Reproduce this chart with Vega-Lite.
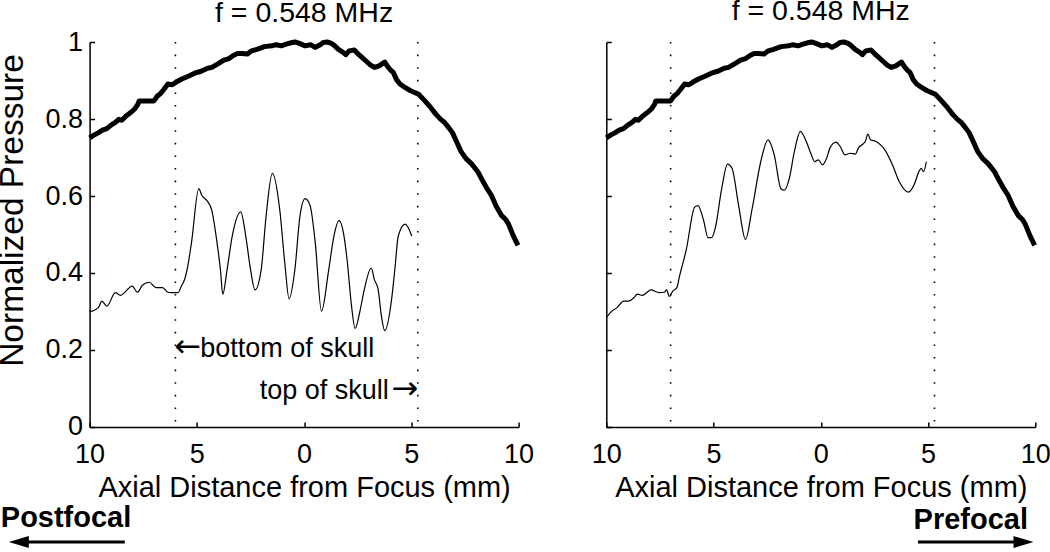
{
  "$schema": "https://vega.github.io/schema/vega-lite/v6.json",
  "background": "white",
  "padding": {"left": -4.4, "top": -3, "right": 0, "bottom": 0},
  "bounds": "flush",
  "spacing": 87.7,
  "datasets": {
    "focal": [
      {"x": -10.0, "y": 0.751}, {"x": -9.8, "y": 0.758}, {"x": -9.6, "y": 0.764}, {"x": -9.4, "y": 0.771},
      {"x": -9.2, "y": 0.775}, {"x": -9.0, "y": 0.784}, {"x": -8.8, "y": 0.791}, {"x": -8.64, "y": 0.799},
      {"x": -8.5, "y": 0.797}, {"x": -8.3, "y": 0.808}, {"x": -8.1, "y": 0.816}, {"x": -7.9, "y": 0.826},
      {"x": -7.75, "y": 0.838}, {"x": -7.69, "y": 0.847}, {"x": -7.4, "y": 0.847}, {"x": -7.0, "y": 0.847},
      {"x": -6.85, "y": 0.859}, {"x": -6.7, "y": 0.866}, {"x": -6.55, "y": 0.876}, {"x": -6.35, "y": 0.891},
      {"x": -6.15, "y": 0.889}, {"x": -5.96, "y": 0.896}, {"x": -5.7, "y": 0.904}, {"x": -5.4, "y": 0.911},
      {"x": -5.1, "y": 0.919}, {"x": -4.8, "y": 0.924}, {"x": -4.5, "y": 0.932}, {"x": -4.3, "y": 0.934},
      {"x": -4.0, "y": 0.944}, {"x": -3.74, "y": 0.953}, {"x": -3.5, "y": 0.957}, {"x": -3.3, "y": 0.965},
      {"x": -3.11, "y": 0.970}, {"x": -2.9, "y": 0.970}, {"x": -2.64, "y": 0.969}, {"x": -2.45, "y": 0.977},
      {"x": -2.2, "y": 0.981}, {"x": -1.85, "y": 0.988}, {"x": -1.5, "y": 0.990}, {"x": -1.3, "y": 0.993},
      {"x": -1.06, "y": 0.990}, {"x": -0.8, "y": 0.995}, {"x": -0.6, "y": 0.998}, {"x": -0.43, "y": 1.0},
      {"x": -0.25, "y": 0.997}, {"x": 0.05, "y": 0.990}, {"x": 0.3, "y": 0.993}, {"x": 0.52, "y": 0.986},
      {"x": 0.75, "y": 0.993}, {"x": 0.9, "y": 0.999}, {"x": 1.07, "y": 1.0}, {"x": 1.25, "y": 0.997},
      {"x": 1.39, "y": 0.992}, {"x": 1.6, "y": 0.981}, {"x": 1.8, "y": 0.974}, {"x": 1.94, "y": 0.967},
      {"x": 2.1, "y": 0.977}, {"x": 2.34, "y": 0.979}, {"x": 2.5, "y": 0.970}, {"x": 2.7, "y": 0.960},
      {"x": 2.9, "y": 0.950}, {"x": 3.1, "y": 0.940}, {"x": 3.28, "y": 0.934}, {"x": 3.5, "y": 0.938},
      {"x": 3.76, "y": 0.948}, {"x": 3.9, "y": 0.936}, {"x": 4.05, "y": 0.926}, {"x": 4.16, "y": 0.921},
      {"x": 4.3, "y": 0.903}, {"x": 4.47, "y": 0.891}, {"x": 4.7, "y": 0.882}, {"x": 4.94, "y": 0.874},
      {"x": 5.15, "y": 0.869}, {"x": 5.34, "y": 0.864}, {"x": 5.6, "y": 0.849}, {"x": 5.9, "y": 0.830},
      {"x": 6.15, "y": 0.812}, {"x": 6.37, "y": 0.799}, {"x": 6.55, "y": 0.791}, {"x": 6.75, "y": 0.777},
      {"x": 6.92, "y": 0.764}, {"x": 7.1, "y": 0.742}, {"x": 7.31, "y": 0.716}, {"x": 7.55, "y": 0.697},
      {"x": 7.8, "y": 0.684}, {"x": 8.1, "y": 0.663}, {"x": 8.3, "y": 0.642}, {"x": 8.5, "y": 0.622},
      {"x": 8.73, "y": 0.602}, {"x": 8.95, "y": 0.574}, {"x": 9.21, "y": 0.549}, {"x": 9.4, "y": 0.539},
      {"x": 9.53, "y": 0.527}, {"x": 9.75, "y": 0.497}, {"x": 9.97, "y": 0.472}
    ],
    "post": [
      {"x": -10.0, "y": 0.299}, {"x": -9.59, "y": 0.31}, {"x": -9.43, "y": 0.327}, {"x": -9.19, "y": 0.314},
      {"x": -8.8, "y": 0.349}, {"x": -8.56, "y": 0.342}, {"x": -8.01, "y": 0.366}, {"x": -7.77, "y": 0.35},
      {"x": -7.54, "y": 0.368}, {"x": -7.22, "y": 0.376}, {"x": -6.91, "y": 0.362}, {"x": -6.6, "y": 0.362},
      {"x": -6.35, "y": 0.35}, {"x": -6.19, "y": 0.349}, {"x": -5.88, "y": 0.349}, {"x": -5.72, "y": 0.366},
      {"x": -5.56, "y": 0.385}, {"x": -5.45, "y": 0.41}, {"x": -5.25, "y": 0.479}, {"x": -4.91, "y": 0.619},
      {"x": -4.77, "y": 0.602}, {"x": -4.53, "y": 0.588}, {"x": -4.3, "y": 0.562}, {"x": -4.06, "y": 0.479},
      {"x": -3.9, "y": 0.408}, {"x": -3.79, "y": 0.345}, {"x": -3.59, "y": 0.409}, {"x": -3.35, "y": 0.496},
      {"x": -2.95, "y": 0.559}, {"x": -2.72, "y": 0.496}, {"x": -2.5, "y": 0.41}, {"x": -2.29, "y": 0.356},
      {"x": -2.0, "y": 0.409}, {"x": -1.77, "y": 0.549}, {"x": -1.48, "y": 0.659}, {"x": -1.14, "y": 0.567},
      {"x": -0.9, "y": 0.426}, {"x": -0.7, "y": 0.333}, {"x": -0.43, "y": 0.409}, {"x": -0.19, "y": 0.549},
      {"x": 0.05, "y": 0.593}, {"x": 0.28, "y": 0.575}, {"x": 0.52, "y": 0.479}, {"x": 0.81, "y": 0.301},
      {"x": 1.15, "y": 0.409}, {"x": 1.39, "y": 0.496}, {"x": 1.63, "y": 0.536}, {"x": 1.86, "y": 0.496},
      {"x": 2.02, "y": 0.426}, {"x": 2.2, "y": 0.32}, {"x": 2.38, "y": 0.256}, {"x": 2.6, "y": 0.3},
      {"x": 2.81, "y": 0.358}, {"x": 3.13, "y": 0.413}, {"x": 3.28, "y": 0.382}, {"x": 3.45, "y": 0.358},
      {"x": 3.6, "y": 0.29}, {"x": 3.76, "y": 0.25}, {"x": 4.08, "y": 0.332}, {"x": 4.23, "y": 0.409},
      {"x": 4.39, "y": 0.496}, {"x": 4.71, "y": 0.527}, {"x": 5.02, "y": 0.496}
    ],
    "pre": [
      {"x": -10.0, "y": 0.284}, {"x": -9.74, "y": 0.301}, {"x": -9.5, "y": 0.31}, {"x": -9.19, "y": 0.327},
      {"x": -8.95, "y": 0.327}, {"x": -8.71, "y": 0.336}, {"x": -8.56, "y": 0.345}, {"x": -8.32, "y": 0.342},
      {"x": -8.09, "y": 0.35}, {"x": -7.93, "y": 0.356}, {"x": -7.53, "y": 0.349}, {"x": -7.3, "y": 0.35},
      {"x": -7.19, "y": 0.356}, {"x": -7.06, "y": 0.339}, {"x": -6.9, "y": 0.353}, {"x": -6.71, "y": 0.362},
      {"x": -6.59, "y": 0.391}, {"x": -6.27, "y": 0.461}, {"x": -5.88, "y": 0.571}, {"x": -5.72, "y": 0.575},
      {"x": -5.48, "y": 0.54}, {"x": -5.25, "y": 0.492}, {"x": -5.09, "y": 0.492}, {"x": -4.93, "y": 0.514},
      {"x": -4.62, "y": 0.619}, {"x": -4.35, "y": 0.683}, {"x": -4.14, "y": 0.672}, {"x": -3.83, "y": 0.575},
      {"x": -3.51, "y": 0.487}, {"x": -3.2, "y": 0.567}, {"x": -2.8, "y": 0.689}, {"x": -2.46, "y": 0.746},
      {"x": -2.17, "y": 0.707}, {"x": -1.86, "y": 0.619}, {"x": -1.7, "y": 0.615}, {"x": -1.47, "y": 0.645},
      {"x": -1.23, "y": 0.716}, {"x": -0.95, "y": 0.768}, {"x": -0.68, "y": 0.742}, {"x": -0.44, "y": 0.707},
      {"x": -0.28, "y": 0.689}, {"x": -0.12, "y": 0.694}, {"x": 0.08, "y": 0.681}, {"x": 0.27, "y": 0.698},
      {"x": 0.43, "y": 0.725}, {"x": 0.71, "y": 0.74}, {"x": 0.9, "y": 0.729}, {"x": 1.13, "y": 0.707},
      {"x": 1.37, "y": 0.711}, {"x": 1.61, "y": 0.709}, {"x": 1.76, "y": 0.725}, {"x": 1.92, "y": 0.733},
      {"x": 2.08, "y": 0.742}, {"x": 2.19, "y": 0.761}, {"x": 2.32, "y": 0.746}, {"x": 2.55, "y": 0.742},
      {"x": 3.03, "y": 0.716}, {"x": 3.34, "y": 0.681}, {"x": 3.66, "y": 0.637}, {"x": 4.08, "y": 0.61},
      {"x": 4.37, "y": 0.632}, {"x": 4.57, "y": 0.663}, {"x": 4.68, "y": 0.672}, {"x": 4.79, "y": 0.663},
      {"x": 4.92, "y": 0.689}
    ]
  },
  "config": {
    "font": "Liberation Sans",
    "view": {"stroke": null},
    "axis": {
      "grid": false,
      "domainColor": "black", "domainWidth": 1.5,
      "tickColor": "black", "tickWidth": 1.5, "tickSize": -5,
      "labelColor": "black", "labelFont": "Liberation Sans", "labelFontSize": 27,
      "titleColor": "black", "titleFont": "Liberation Sans", "titleFontSize": 29, "titleFontWeight": "normal"
    },
    "title": {"font": "Liberation Sans", "fontSize": 28.5, "fontWeight": "normal", "color": "black", "baseline": "alphabetic", "anchor": "middle", "offset": 8}
  },
  "hconcat": [
    {
      "width": 429, "height": 385,
      "title": {"text": "f = 0.548 MHz", "dy": 7},
      "layer": [
        {
          "data": {"name": "focal"},
          "mark": {"type": "line", "color": "black", "strokeWidth": 5, "strokeJoin": "round"},
          "encoding": {
            "x": {"field": "x", "type": "quantitative", "scale": {"domain": [-10, 10], "nice": false, "zero": false},
                  "axis": {"values": [-10, -5, 0, 5, 10], "labelExpr": "format(abs(datum.value), 'd')", "labelFlush": false, "labelPadding": 20,
                           "title": "Axial Distance from Focus (mm)", "titleBaseline": "alphabetic", "titleY": 70}},
            "y": {"field": "y", "type": "quantitative", "scale": {"domain": [0, 1], "nice": false, "zero": false},
                  "axis": {"values": [0, 0.2, 0.4, 0.6, 0.8, 1], "format": "~g", "labelPadding": 12,
                           "title": "Normalized Pressure", "titleFontSize": 33.5, "titleX": -67, "titleY": 168, "titleAngle": -90,
                           "titleBaseline": "alphabetic", "titleAlign": "center"}}
          }
        },
        {
          "data": {"name": "post"},
          "mark": {"type": "line", "color": "black", "strokeWidth": 1.2, "interpolate": "monotone"},
          "encoding": {"x": {"field": "x", "type": "quantitative"}, "y": {"field": "y", "type": "quantitative"}}
        },
        {
          "data": {"values": [{"x": -6.0, "top": 1, "bottom": 0}, {"x": 5.3, "top": 1, "bottom": 0}]},
          "mark": {"type": "rule", "color": "black", "strokeWidth": 1.6, "strokeDash": [1.6, 11]},
          "encoding": {"x": {"field": "x", "type": "quantitative"}, "y": {"field": "top", "type": "quantitative"}, "y2": {"field": "bottom"}}
        },
        {
          "data": {"values": [{"x": -4.84, "y": 0.181, "label": "bottom of skull"}]},
          "mark": {"type": "text", "align": "left", "baseline": "alphabetic", "fontSize": 27, "color": "black"},
          "encoding": {"x": {"field": "x", "type": "quantitative"}, "y": {"field": "y", "type": "quantitative"}, "text": {"field": "label"}}
        },
        {
          "data": {"values": [{"x": -6.05, "y": 0.181, "label": "←"}]},
          "mark": {"type": "text", "align": "left", "baseline": "alphabetic", "font": "DejaVu Sans", "fontSize": 32, "color": "black"},
          "encoding": {"x": {"field": "x", "type": "quantitative"}, "y": {"field": "y", "type": "quantitative"}, "text": {"field": "label"}}
        },
        {
          "data": {"values": [{"x": 3.95, "y": 0.073, "label": "top of skull"}]},
          "mark": {"type": "text", "align": "right", "baseline": "alphabetic", "fontSize": 27, "color": "black"},
          "encoding": {"x": {"field": "x", "type": "quantitative"}, "y": {"field": "y", "type": "quantitative"}, "text": {"field": "label"}}
        },
        {
          "data": {"values": [{"x": 5.32, "y": 0.073, "label": "→"}]},
          "mark": {"type": "text", "align": "right", "baseline": "alphabetic", "font": "DejaVu Sans", "fontSize": 32, "color": "black"},
          "encoding": {"x": {"field": "x", "type": "quantitative"}, "y": {"field": "y", "type": "quantitative"}, "text": {"field": "label"}}
        },
        {
          "data": {"values": [{"x": -14.14, "y": -0.26, "label": "Postfocal"}]},
          "mark": {"type": "text", "align": "left", "baseline": "alphabetic", "fontSize": 29, "fontWeight": "bold", "color": "black"},
          "encoding": {"x": {"field": "x", "type": "quantitative"}, "y": {"field": "y", "type": "quantitative"}, "text": {"field": "label"}}
        },
        {
          "data": {"values": [{"x": -12.9, "x2": -8.36, "y": -0.299}]},
          "mark": {"type": "rule", "color": "black", "strokeWidth": 3},
          "encoding": {"x": {"field": "x", "type": "quantitative"}, "x2": {"field": "x2"}, "y": {"field": "y", "type": "quantitative"}}
        },
        {
          "data": {"values": [{"x": -13.3, "y": -0.299}]},
          "mark": {"type": "point", "filled": true, "color": "black", "opacity": 1, "size": 400, "shape": "M 1 -0.6 L -1 0 L 1 0.6 Z"},
          "encoding": {"x": {"field": "x", "type": "quantitative"}, "y": {"field": "y", "type": "quantitative"}}
        }
      ]
    },
    {
      "width": 429, "height": 385,
      "title": {"text": "f = 0.548 MHz", "dy": -6},
      "layer": [
        {
          "data": {"name": "focal"},
          "mark": {"type": "line", "color": "black", "strokeWidth": 5, "strokeJoin": "round"},
          "encoding": {
            "x": {"field": "x", "type": "quantitative", "scale": {"domain": [-10, 10], "nice": false, "zero": false},
                  "axis": {"values": [-10, -5, 0, 5, 10], "labelExpr": "format(abs(datum.value), 'd')", "labelFlush": false, "labelPadding": 20,
                           "title": "Axial Distance from Focus (mm)", "titleBaseline": "alphabetic", "titleY": 70}},
            "y": {"field": "y", "type": "quantitative", "scale": {"domain": [0, 1], "nice": false, "zero": false},
                  "axis": {"values": [0, 0.2, 0.4, 0.6, 0.8, 1], "labels": false, "title": null}}
          }
        },
        {
          "data": {"name": "pre"},
          "mark": {"type": "line", "color": "black", "strokeWidth": 1.2, "interpolate": "monotone"},
          "encoding": {"x": {"field": "x", "type": "quantitative"}, "y": {"field": "y", "type": "quantitative"}}
        },
        {
          "data": {"values": [{"x": -7.0, "top": 1, "bottom": 0}, {"x": 5.3, "top": 1, "bottom": 0}]},
          "mark": {"type": "rule", "color": "black", "strokeWidth": 1.6, "strokeDash": [1.6, 11]},
          "encoding": {"x": {"field": "x", "type": "quantitative"}, "y": {"field": "top", "type": "quantitative"}, "y2": {"field": "bottom"}}
        },
        {
          "data": {"values": [{"x": 9.66, "y": -0.265, "label": "Prefocal"}]},
          "mark": {"type": "text", "align": "right", "baseline": "alphabetic", "fontSize": 29, "fontWeight": "bold", "color": "black"},
          "encoding": {"x": {"field": "x", "type": "quantitative"}, "y": {"field": "y", "type": "quantitative"}, "text": {"field": "label"}}
        },
        {
          "data": {"values": [{"x": 4.53, "x2": 9.0, "y": -0.299}]},
          "mark": {"type": "rule", "color": "black", "strokeWidth": 3},
          "encoding": {"x": {"field": "x", "type": "quantitative"}, "x2": {"field": "x2"}, "y": {"field": "y", "type": "quantitative"}}
        },
        {
          "data": {"values": [{"x": 9.45, "y": -0.299}]},
          "mark": {"type": "point", "filled": true, "color": "black", "opacity": 1, "size": 400, "shape": "M -1 -0.6 L 1 0 L -1 0.6 Z"},
          "encoding": {"x": {"field": "x", "type": "quantitative"}, "y": {"field": "y", "type": "quantitative"}}
        }
      ]
    }
  ]
}
